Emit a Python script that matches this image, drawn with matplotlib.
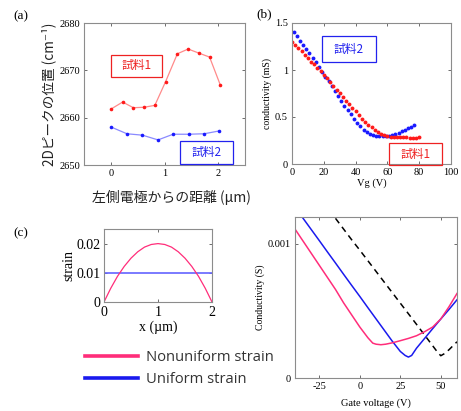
import matplotlib
matplotlib.use("Agg")
import matplotlib.pyplot as plt
from matplotlib.patches import Rectangle
from matplotlib.lines import Line2D

plt.rcParams['axes.unicode_minus'] = False

# ---------------- data ----------------
# (a) 2D peak position vs distance from left electrode
a_x_s1 = [0.0, 0.22, 0.42, 0.62, 0.82, 1.02, 1.24, 1.44, 1.65, 1.84, 2.04]
a_y_s1 = [2661.8, 2663.3, 2662.1, 2662.2, 2662.6, 2667.6, 2673.5, 2674.5, 2673.6, 2672.8, 2666.9]
a_x_s2 = [0.01, 0.30, 0.59, 0.88, 1.16, 1.45, 1.74, 2.02]
a_y_s2 = [2658.0, 2656.6, 2656.3, 2655.3, 2656.5, 2656.5, 2656.6, 2657.2]

# (b) conductivity vs gate voltage
b_vg_s2 = [1, 3, 5, 7, 9, 11, 13, 15, 17, 19, 21, 23, 25, 27, 29, 31, 33, 35, 37, 39,
           41, 43, 45, 47, 49, 51, 53, 55, 57, 59, 61, 63, 65, 67, 69, 71, 73, 75, 77]
b_c_s2 = [1.40, 1.36, 1.31, 1.27, 1.22, 1.18, 1.13, 1.08, 1.03, 0.98, 0.93, 0.88, 0.83,
          0.78, 0.72, 0.67, 0.62, 0.57, 0.53, 0.48, 0.44, 0.40, 0.36, 0.34, 0.32, 0.31,
          0.30, 0.30, 0.295, 0.295, 0.30, 0.31, 0.32, 0.33, 0.35, 0.36, 0.38, 0.39, 0.41]
b_vg_s1 = [0, 2, 4, 6, 8, 10, 12, 14, 16, 18, 20, 22, 24, 26, 28, 30, 32, 34, 36, 38, 40,
           42, 44, 46, 48, 50, 52, 54, 56, 58, 60, 62, 64, 66, 68, 70, 72, 74, 76, 78, 80]
b_c_s1 = [1.30, 1.27, 1.23, 1.20, 1.16, 1.13, 1.09, 1.06, 1.02, 0.99, 0.95, 0.91, 0.87,
          0.83, 0.79, 0.75, 0.71, 0.67, 0.64, 0.60, 0.56, 0.52, 0.48, 0.45, 0.42, 0.39,
          0.36, 0.34, 0.32, 0.31, 0.30, 0.29, 0.285, 0.285, 0.29, 0.285, 0.285, 0.28,
          0.28, 0.28, 0.285]

# (c) strain profiles
c_x = [0, 0.125, 0.25, 0.375, 0.5, 0.625, 0.75, 0.875, 1.0, 1.125, 1.25, 1.375, 1.5,
       1.625, 1.75, 1.875, 2.0]
c_nonuni = [0, 0.0047, 0.0088, 0.0122, 0.0150, 0.0172, 0.0188, 0.0197, 0.0200, 0.0197,
            0.0188, 0.0172, 0.0150, 0.0122, 0.0088, 0.0047, 0]
c_uni_x = [0, 2]
c_uni = [0.01, 0.01]

# (c) simulated conductivity vs gate voltage
d_vg_uni = [-40, -35, -30, -25, -20, -15, -10, -5, 0, 5, 10, 15, 20, 25, 28, 30, 32, 35,
            40, 45, 50, 55, 60]
d_c_uni = [0.001273, 0.00119, 0.001107, 0.001024, 0.00094, 0.000857, 0.000773, 0.00069,
           0.000608, 0.000524, 0.000441, 0.000358, 0.000275, 0.000198, 0.000168, 0.000156,
           0.000168, 0.000222, 0.000295, 0.000368, 0.00044, 0.00051, 0.000583]
d_vg_non = [-40, -35, -30, -25, -20, -15, -10, -5, 0, 5, 8, 10, 13, 16, 20, 25, 30, 35,
            40, 45, 50, 55, 60]
d_c_non = [0.00111, 0.00102, 0.00093, 0.00084, 0.00075, 0.00066, 0.00056, 0.00047,
           0.00038, 0.00030, 0.00026, 0.000252, 0.000248, 0.000252, 0.000262, 0.000278,
           0.000295, 0.000315, 0.000345, 0.00038, 0.00044, 0.00053, 0.00063]
d_vg_ref = [-15, -10, -5, 0, 5, 10, 15, 20, 25, 30, 35, 40, 45, 48, 50, 52, 55, 60]
d_c_ref = [0.00119, 0.00111, 0.00103, 0.000953, 0.000874, 0.000795, 0.000716, 0.000637,
           0.000558, 0.000479, 0.0004, 0.00032, 0.00024, 0.000192, 0.000166, 0.00018,
           0.00021, 0.00027]

# ---------------- style ----------------
JP = ['Noto Sans CJK JP', 'DejaVu Sans']
SERIF = 'Liberation Serif'
SPINE = '#8c8c8c'
W, H = 461, 411


def frac(l, t, r, b):
    return [l / W, 1 - b / H, (r - l) / W, (b - t) / H]


def style(ax, size):
    for s in ax.spines.values():
        s.set_color(SPINE)
        s.set_linewidth(0.8)
    ax.tick_params(direction='in', top=True, right=True, length=2.5, width=0.6,
                   color='#555555', labelsize=size, pad=3)
    for lab in ax.get_xticklabels() + ax.get_yticklabels():
        lab.set_family(SERIF)


def box(ax, x0, y0, w, h, txt, col):
    ax.add_patch(Rectangle((x0, y0), w, h, transform=ax.transAxes, fill=False,
                           edgecolor=col, linewidth=0.9, clip_on=False, zorder=5))
    ax.text(x0 + w / 2, y0 + h / 2, txt, transform=ax.transAxes, ha='center',
            va='center', color=col, fontsize=8.5, family=JP, zorder=6)


fig = plt.figure(figsize=(W / 100, H / 100), dpi=100)

RED = '#ff1a1a'
BLUE = '#1a1aff'

# (a)
ax1 = fig.add_axes(frac(84, 23, 245, 165))
ax1.plot(a_x_s1, a_y_s1, '-', color='#ff8a8a', lw=0.9)
ax1.plot(a_x_s1, a_y_s1, 'o', color=RED, ms=2.6, mec='none')
ax1.plot(a_x_s2, a_y_s2, '-', color='#8a8aff', lw=0.9)
ax1.plot(a_x_s2, a_y_s2, 'o', color=BLUE, ms=2.6, mec='none')
ax1.set_xlim(-0.5, 2.5)
ax1.set_ylim(2650, 2680)
ax1.set_xticks([0, 1, 2])
ax1.set_yticks([2650, 2660, 2670, 2680])
style(ax1, 7.5)
ax1.set_ylabel('2Dピークの位置 (cm⁻¹)', family=JP, fontsize=9.8, color='#222222',
               labelpad=2)
box(ax1, 0.168, 0.620, 0.317, 0.155, '試料1', '#ee2222')
box(ax1, 0.596, 0.007, 0.329, 0.162, '試料2', '#2222ee')
fig.text(171 / W, 1 - 197 / H, '左側電極からの距離 (µm)', family=JP, fontsize=10,
         ha='center', va='center', color='#222222')
fig.text(13 / W, 1 - 16 / H, '(a)', family=SERIF, fontsize=9.5, va='center')

# (b)
ax2 = fig.add_axes(frac(292, 23, 451, 164))
ax2.plot(b_vg_s2, b_c_s2, 'o', color=BLUE, ms=2.8, mec='none')
ax2.plot(b_vg_s1, b_c_s1, 'o', color=RED, ms=2.8, mec='none')
ax2.set_xlim(0, 100)
ax2.set_ylim(0, 1.5)
ax2.set_xticks([0, 20, 40, 60, 80, 100])
ax2.set_yticks([0, 0.5, 1, 1.5])
ax2.set_yticklabels(['0', '0.5', '1', '1.5'])
style(ax2, 7.5)
ax2.set_xlabel('Vg (V)', family=SERIF, fontsize=7.5, labelpad=1)
ax2.set_ylabel('conductivity (mS)', family=SERIF, fontsize=7, labelpad=2)
box(ax2, 0.189, 0.723, 0.340, 0.184, '試料2', '#2222ee')
box(ax2, 0.610, -0.007, 0.333, 0.156, '試料1', '#ee2222')
fig.text(256 / W, 1 - 14 / H, '(b)', family=SERIF, fontsize=9.5, va='center')

# (c) left
PINK = '#ff2d7a'
ax3 = fig.add_axes(frac(104, 229, 212, 302))
ax3.plot(c_uni_x, c_uni, '-', color='#6464ff', lw=1.2)
ax3.plot(c_x, c_nonuni, '-', color=PINK, lw=0.9)
ax3.set_xlim(0, 2)
ax3.set_ylim(0, 0.025)
ax3.set_xticks([0, 1, 2])
ax3.set_yticks([0, 0.01, 0.02])
ax3.set_yticklabels(['0', '0.01', '0.02'])
style(ax3, 10)
ax3.tick_params(axis='y', pad=2.5)
ax3.tick_params(axis='x', pad=3)
ax3.set_xlabel('x (µm)', family=SERIF, fontsize=10, labelpad=1)
ax3.set_ylabel('strain', family=SERIF, fontsize=10, labelpad=1)
fig.text(13 / W, 1 - 233 / H, '(c)', family=SERIF, fontsize=9.5, va='center')

# legend
fig.add_artist(Line2D([85 / W, 138 / W], [1 - 356 / H, 1 - 356 / H], color=PINK, lw=2.6))
fig.add_artist(Line2D([85 / W, 138 / W], [1 - 378 / H, 1 - 378 / H], color='#1a1aee', lw=2.6))
fig.text(146 / W, 1 - 357 / H, 'Nonuniform strain', family='Open Sans', fontsize=10.6,
         va='center', color='#333333')
fig.text(146 / W, 1 - 379 / H, 'Uniform strain', family='Open Sans', fontsize=10.6,
         va='center', color='#333333')

# (c) right
ax4 = fig.add_axes(frac(295, 217, 457, 378))
ax4.plot(d_vg_ref, d_c_ref, '--', color='black', lw=1.1, dashes=(4, 3))
ax4.plot(d_vg_uni, d_c_uni, '-', color='#1a1aee', lw=1.1)
ax4.plot(d_vg_non, d_c_non, '-', color=PINK, lw=1.1)
ax4.set_xlim(-40, 60)
ax4.set_ylim(0, 0.0012)
ax4.set_xticks([-25, 0, 25, 50])
ax4.set_yticks([0, 0.001])
ax4.set_yticklabels(['0', '0.001'])
style(ax4, 7.5)
ax4.set_xlabel('Gate voltage (V)', family=SERIF, fontsize=7.5, labelpad=5)
ax4.set_ylabel('Conductivity (S)', family=SERIF, fontsize=7, labelpad=2)

fig.savefig('out.png', dpi=100)
